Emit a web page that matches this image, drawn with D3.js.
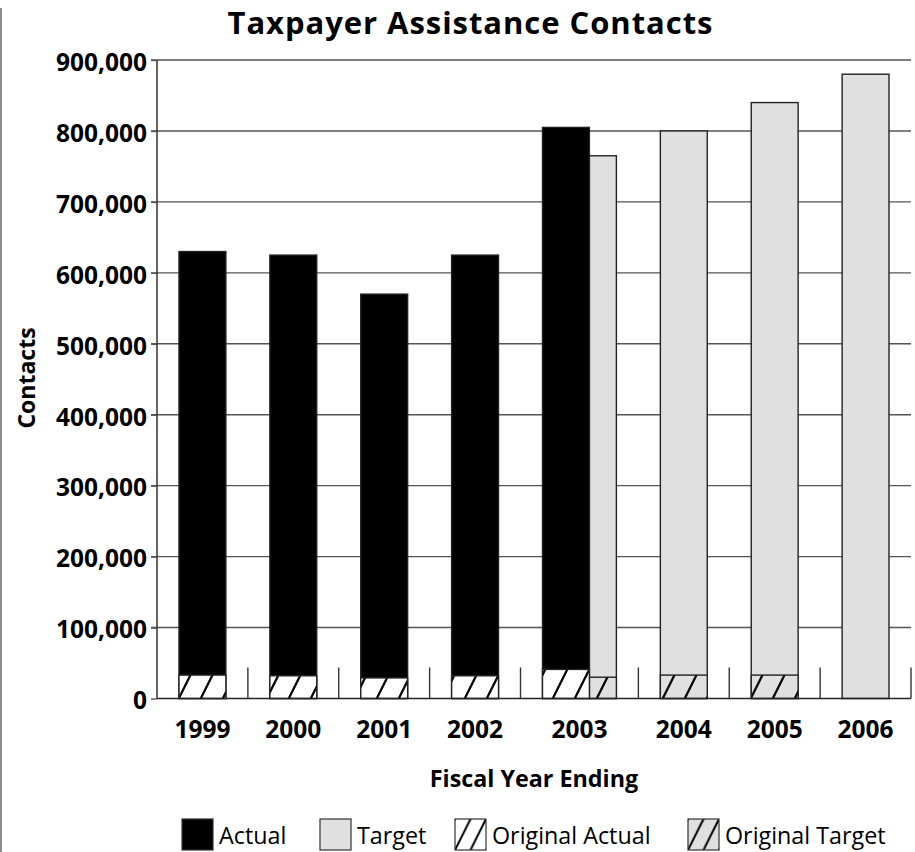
<!DOCTYPE html>
<html>
<head>
<meta charset="utf-8">
<script src="https://cdn.jsdelivr.net/npm/d3@7"></script>
<style>
  html, body { margin: 0; padding: 0; background: #fff; }
  svg { display: block; font-family: "Open Sans", "Noto Sans", sans-serif; }
</style>
</head>
<body>
<svg id="chart" width="915" height="852"></svg>
<script>
// Fiscal years and contact counts
const years = ["1999", "2000", "2001", "2002", "2003", "2004", "2005", "2006"];
const actual = [630000, 625000, 570000, 625000, 805000, null, null, null];
const target = [null, null, null, null, 765000, 800000, 840000, 880000];
const originalActual = [33000, 32000, 29000, 32000, 41000, null, null, null];
const originalTarget = [null, null, null, null, 30000, 33000, 33000, null];
const yTicks = [0, 100000, 200000, 300000, 400000, 500000, 600000, 700000, 800000, 900000];
const legendLabels = ["Actual", "Target", "Original Actual", "Original Target"];

const svg = d3.select("#chart");
const plot = { left: 157, right: 911, top: 60, bottom: 698.5 };

// Slot geometry in category units: padding, bar width, offset of a second bar
const pad = 0.242, barW = 0.516, secondOffset = 0.297;
const slots = years.map((yr, i) => {
  const both = actual[i] != null && target[i] != null;
  return { year: yr, i, both, width: 2 * pad + barW + (both ? secondOffset : 0) };
});
let acc = 0;
slots.forEach(s => { s.start = acc; acc += s.width; s.end = acc; });

const x = d3.scaleLinear().domain([0, acc]).range([plot.left, plot.right]);
const y = d3.scaleLinear().domain([0, 900000]).range([plot.bottom, plot.top]);

// Hatch patterns: page-aligned ones for bars, box-aligned ones for the legend
const defs = svg.append("defs");
function hatch(id, bg) {
  const p = defs.append("pattern").attr("id", id)
    .attr("patternUnits", "userSpaceOnUse").attr("width", 22).attr("height", 44);
  p.append("rect").attr("width", 22).attr("height", 44).attr("fill", bg);
  [[0, 44, 22, 0], [-11, 22, 11, -22], [11, 66, 33, 22]].forEach(([x1, y1, x2, y2]) =>
    p.append("line").attr("x1", x1).attr("y1", y1).attr("x2", x2).attr("y2", y2)
      .attr("stroke", "#000").attr("stroke-width", 2.2));
}
function legendHatch(id, bg, w, h) {
  const p = defs.append("pattern").attr("id", id)
    .attr("patternUnits", "objectBoundingBox").attr("width", 0.5).attr("height", 1);
  p.append("rect").attr("width", w / 2).attr("height", h).attr("fill", bg);
  [[0, h, w / 2, 0], [-w / 4, h / 2, w / 4, -h / 2], [w / 4, h * 1.5, w * 0.75, h / 2]]
    .forEach(([x1, y1, x2, y2]) =>
      p.append("line").attr("x1", x1).attr("y1", y1).attr("x2", x2).attr("y2", y2)
        .attr("stroke", "#000").attr("stroke-width", 2));
}
hatch("hatchWhite", "#fff");
hatch("hatchGray", "#e0e0e0");
const legendBox = 31;
legendHatch("legendHatchWhite", "#fff", legendBox, legendBox);
legendHatch("legendHatchGray", "#e0e0e0", legendBox, legendBox);

// Frame on the left edge of the page
svg.append("line").attr("x1", 1).attr("x2", 1).attr("y1", 8).attr("y2", 852)
  .attr("stroke", "#666").attr("stroke-width", 1.5);

// Horizontal gridlines
svg.append("g").selectAll("line").data(yTicks.filter(d => d > 0)).join("line")
  .attr("x1", plot.left - 6).attr("x2", plot.right)
  .attr("y1", d => y(d)).attr("y2", d => y(d))
  .attr("stroke", "#555").attr("stroke-width", 1.4);

// Y axis labels
const yAxis = d3.axisLeft(y).tickValues(yTicks).tickSize(6).tickPadding(4)
  .tickFormat(d3.format(","));
const gy = svg.append("g").attr("transform", `translate(${plot.left},0)`).call(yAxis);
gy.select(".domain").remove();
gy.selectAll(".tick line").attr("stroke", "#555").attr("stroke-width", 1.4);
gy.selectAll(".tick text").attr("font-size", 24.5).attr("font-weight", 700)
  .attr("fill", "#000").attr("font-family", "Open Sans").attr("dy", "0.42em");

// Bars
const barsG = svg.append("g");
function bar(x0, w, v, fill) {
  barsG.append("rect")
    .attr("x", x(x0)).attr("width", x(x0 + w) - x(x0))
    .attr("y", y(v)).attr("height", y(0) - y(v))
    .attr("fill", fill).attr("stroke", "#222").attr("stroke-width", 1.4);
}
slots.forEach(s => {
  const i = s.i;
  const a0 = s.start + pad;
  // a target sharing its year with an actual bar shows beside it, partly tucked behind
  const t0 = s.both ? a0 + barW : a0;
  const tw = s.both ? secondOffset : barW;
  if (target[i] != null) bar(t0, tw, target[i], "#e0e0e0");
  if (originalTarget[i] != null) bar(t0, tw, originalTarget[i], "url(#hatchGray)");
  if (actual[i] != null) bar(a0, barW, actual[i], "#000");
  if (originalActual[i] != null) bar(a0, barW, originalActual[i], "url(#hatchWhite)");
});

// Axis lines
svg.append("line").attr("x1", plot.left).attr("x2", plot.left)
  .attr("y1", plot.top).attr("y2", plot.bottom).attr("stroke", "#333").attr("stroke-width", 1.5);
svg.append("line").attr("x1", plot.left).attr("x2", plot.right)
  .attr("y1", plot.bottom).attr("y2", plot.bottom).attr("stroke", "#222").attr("stroke-width", 1.5);

// Category separators rising from the baseline
svg.append("g").selectAll("line").data(slots).join("line")
  .attr("x1", d => x(d.end)).attr("x2", d => x(d.end))
  .attr("y1", plot.bottom).attr("y2", plot.bottom - 31)
  .attr("stroke", "#333").attr("stroke-width", 1.4);

// Year labels
svg.append("g").selectAll("text").data(slots).join("text")
  .attr("x", d => x((d.start + d.end) / 2)).attr("y", 738)
  .attr("text-anchor", "middle").attr("font-size", 24.5).attr("font-weight", 700)
  .text(d => d.year);

// Titles
svg.append("text").attr("x", 470).attr("y", 33.5).attr("text-anchor", "middle")
  .attr("font-size", 31).attr("font-weight", 700)
  .attr("textLength", 485).attr("lengthAdjust", "spacing")
  .text("Taxpayer Assistance Contacts");
svg.append("text").attr("x", (plot.left + plot.right) / 2).attr("y", 787).attr("text-anchor", "middle")
  .attr("font-size", 23.3).attr("font-weight", 700).text("Fiscal Year Ending");
svg.append("text").attr("transform", "translate(35,378) rotate(-90)").attr("text-anchor", "middle")
  .attr("font-size", 23).attr("font-weight", 700).text("Contacts");

// Legend
const legendFills = ["#000", "#e0e0e0", "url(#legendHatchWhite)", "url(#legendHatchGray)"];
const legendX = [182, 320, 455, 688];
const lg = svg.append("g").selectAll("g").data(legendLabels).join("g")
  .attr("transform", (d, i) => `translate(${legendX[i]},819)`);
lg.append("rect").attr("width", legendBox).attr("height", legendBox)
  .attr("fill", (d, i) => legendFills[i]).attr("stroke", "#333").attr("stroke-width", 1.2);
lg.append("text").attr("x", 37).attr("y", 25).attr("font-size", 23.3).text(d => d);
</script>
</body>
</html>
